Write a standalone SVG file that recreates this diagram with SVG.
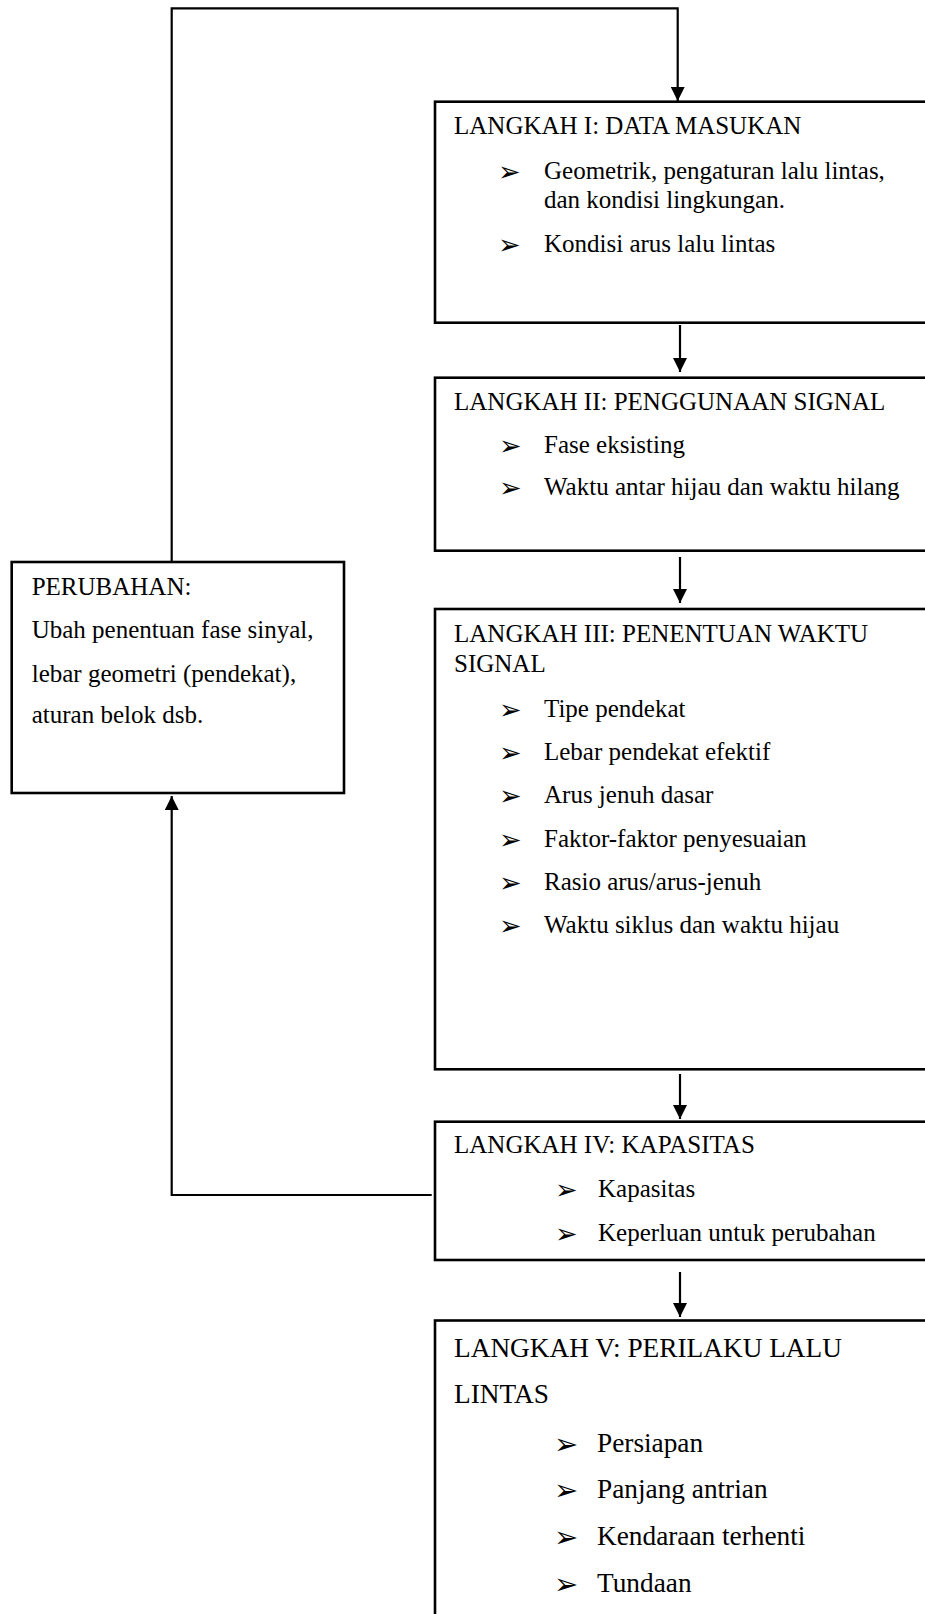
<svg xmlns="http://www.w3.org/2000/svg" width="925" height="1614" viewBox="0 0 925 1614">
<defs>
<marker id="ah" viewBox="0 0 14 14" refX="14" refY="7" markerWidth="14" markerHeight="14" markerUnits="userSpaceOnUse" orient="auto">
<path d="M0,0 L14,7 L0,14 Z" fill="#000"/>
</marker>
<style>
.box{fill:#fff;stroke:#000;stroke-width:2.6}
.con{fill:none;stroke:#000;stroke-width:2.2}
.t{font-family:"Liberation Serif","Times New Roman",serif;font-size:25px;fill:#000}
.t5{font-family:"Liberation Serif","Times New Roman",serif;font-size:27.3px;fill:#000}
.b{font-family:"DejaVu Sans",sans-serif;font-size:27px;fill:#000}
.b5{font-family:"DejaVu Sans",sans-serif;font-size:29px;fill:#000}
</style>
</defs>
<rect width="925" height="1614" fill="#fff"/>
<g id="connectors">
<polyline class="con" points="171.7,562 171.7,8.3 677.7,8.3 677.7,101" marker-end="url(#ah)"/>
<line class="con" x1="680" y1="325" x2="680" y2="372" marker-end="url(#ah)"/>
<line class="con" x1="680" y1="557" x2="680" y2="603" marker-end="url(#ah)"/>
<line class="con" x1="680" y1="1074" x2="680" y2="1119" marker-end="url(#ah)"/>
<line class="con" x1="680" y1="1272" x2="680" y2="1317" marker-end="url(#ah)"/>
<polyline class="con" points="431.7,1195 171.7,1195 171.7,796" marker-end="url(#ah)"/>
</g>
<g id="langkah1">
<rect class="box" x="435" y="101.7" width="510" height="221"/>
<text class="t" x="454" y="134">LANGKAH I: DATA MASUKAN</text>
<text class="b" x="498" y="181">➢</text>
<text class="t" x="544" y="179">Geometrik, pengaturan lalu lintas,</text>
<text class="t" x="544" y="208">dan kondisi lingkungan.</text>
<text class="b" x="498" y="254">➢</text>
<text class="t" x="544" y="252">Kondisi arus lalu lintas</text>
</g>
<g id="langkah2">
<rect class="box" x="435" y="377.7" width="510" height="173"/>
<text class="t" x="454" y="410">LANGKAH II: PENGGUNAAN SIGNAL</text>
<text class="b" x="499" y="455">➢</text>
<text class="t" x="544" y="453">Fase eksisting</text>
<text class="b" x="499" y="497">➢</text>
<text class="t" x="544" y="495">Waktu antar hijau dan waktu hilang</text>
</g>
<g id="langkah3">
<rect class="box" x="435" y="609" width="510" height="460.3"/>
<text class="t" x="454" y="642">LANGKAH III: PENENTUAN WAKTU</text>
<text class="t" x="454" y="672">SIGNAL</text>
<text class="b" x="499" y="719">➢</text>
<text class="t" x="544" y="717">Tipe pendekat</text>
<text class="b" x="499" y="762">➢</text>
<text class="t" x="544" y="760">Lebar pendekat efektif</text>
<text class="b" x="499" y="805">➢</text>
<text class="t" x="544" y="803">Arus jenuh dasar</text>
<text class="b" x="499" y="849">➢</text>
<text class="t" x="544" y="847">Faktor-faktor penyesuaian</text>
<text class="b" x="499" y="892">➢</text>
<text class="t" x="544" y="890">Rasio arus/arus-jenuh</text>
<text class="b" x="499" y="935">➢</text>
<text class="t" x="544" y="933">Waktu siklus dan waktu hijau</text>
</g>
<g id="langkah4">
<rect class="box" x="435" y="1121.7" width="510" height="138.3"/>
<text class="t" x="454" y="1153">LANGKAH IV: KAPASITAS</text>
<text class="b" x="555" y="1199">➢</text>
<text class="t" x="598" y="1197">Kapasitas</text>
<text class="b" x="555" y="1243">➢</text>
<text class="t" x="598" y="1241">Keperluan untuk perubahan</text>
</g>
<g id="langkah5">
<rect class="box" x="435" y="1320.5" width="510" height="320"/>
<text class="t5" x="454" y="1357">LANGKAH V: PERILAKU LALU</text>
<text class="t5" x="454" y="1403">LINTAS</text>
<text class="b5" x="554" y="1454">➢</text>
<text class="t5" x="597" y="1452">Persiapan</text>
<text class="b5" x="554" y="1500">➢</text>
<text class="t5" x="597" y="1498">Panjang antrian</text>
<text class="b5" x="554" y="1547">➢</text>
<text class="t5" x="597" y="1545">Kendaraan terhenti</text>
<text class="b5" x="554" y="1594">➢</text>
<text class="t5" x="597" y="1592">Tundaan</text>
</g>
<g id="perubahan">
<rect class="box" x="11.7" y="562" width="332.3" height="231"/>
<text class="t" x="31.7" y="595">PERUBAHAN:</text>
<text class="t" x="31.7" y="638">Ubah penentuan fase sinyal,</text>
<text class="t" x="31.7" y="682">lebar geometri (pendekat),</text>
<text class="t" x="31.7" y="723">aturan belok dsb.</text>
</g>
</svg>
